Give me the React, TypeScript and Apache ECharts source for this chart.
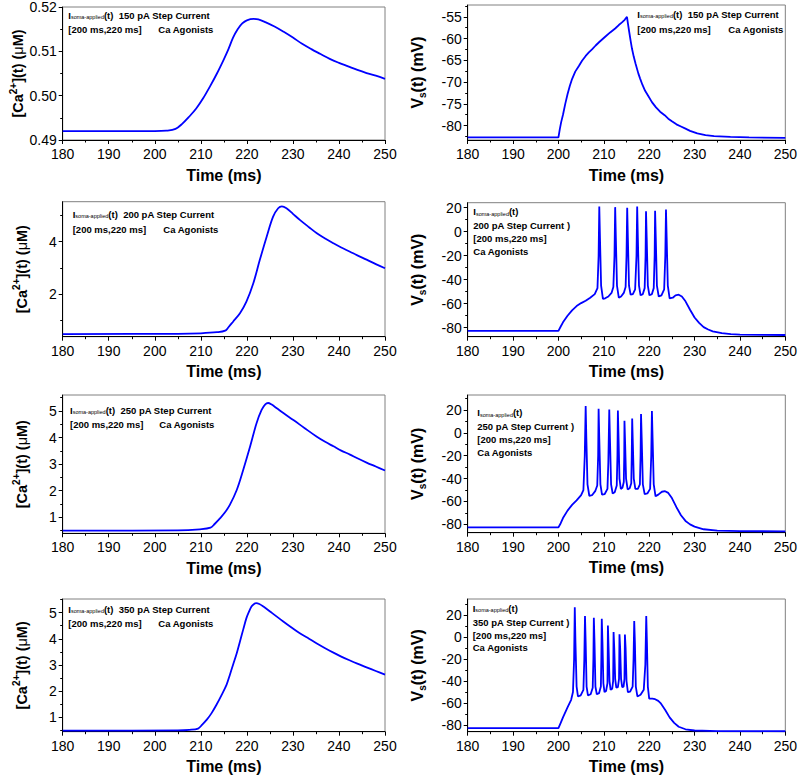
import React, { useEffect, useRef } from "react";
import * as echarts from "echarts";

// ---------- data ----------
const timeMin = 180;
const timeMax = 250;

const caTicks150 = [0.49, 0.5, 0.51, 0.52];
const caTicks200 = [2, 4];
const caTicks250 = [1, 2, 3, 4, 5];
const caTicks350 = [1, 2, 3, 4, 5];
const vTicks150 = [-80, -75, -70, -65, -60, -55];
const vTicksSpike = [-80, -60, -40, -20, 0, 20];

const ca150: number[][] = [
  [180, 0.492], [200, 0.492], [202.5, 0.4921], [204.5, 0.4925], [206, 0.4937], [207.5, 0.4953],
  [209, 0.4971], [210.5, 0.4994], [212, 0.5021], [213.5, 0.505], [215, 0.5082], [216, 0.5105],
  [217, 0.5131], [218, 0.515], [219, 0.5163], [220, 0.517], [221.5, 0.5173], [222.5, 0.5172],
  [224, 0.5166], [226, 0.5156], [228, 0.5144], [230, 0.5131], [232, 0.5117], [234, 0.5105],
  [236, 0.5094], [238, 0.5083], [240, 0.5074], [242, 0.5066], [244, 0.5058], [246, 0.5051],
  [248, 0.5045], [250, 0.5038],
];

const vs150: number[][] = [
  [180, -82.7], [200, -82.7], [200.3, -80.8], [200.6, -79.2], [201, -77.5], [201.5, -75], [202, -72.8],
  [202.5, -70.9], [203, -69.3], [203.7, -67.6], [204.5, -66.3], [205.2, -65.1], [206, -64], [206.7, -63.2],
  [207.4, -62.5], [208.2, -61.6], [209, -60.8], [210.3, -59.6], [211.4, -58.6], [212.5, -57.7],
  [213.3, -56.9], [214, -56.3], [214.6, -55.7], [215.1, -55], [215.35, -56.8], [215.6, -58.5],
  [215.9, -60.5], [216.2, -62.3], [216.6, -64.2], [217, -65.8], [217.6, -68], [218, -69.2],
  [218.5, -70.6], [219.1, -72], [219.8, -73.2], [220.6, -74.6], [221.5, -75.8], [222.4, -76.8],
  [223.4, -77.6], [224.2, -78.4], [225, -79], [226, -79.7], [227, -80.2], [228, -80.7], [229, -81.2],
  [230.6, -81.8], [232.4, -82.2], [234.3, -82.4], [237.9, -82.6], [242, -82.7], [250, -82.8],
];

const ca200: number[][] = [
  [180, 0.49], [205, 0.5], [210, 0.52], [213.5, 0.56], [215.3, 0.62], [216, 0.75], [217, 0.96],
  [218.5, 1.28], [219.9, 1.72], [221.4, 2.42], [222.8, 3.3], [224.3, 4.19], [225.7, 4.95],
  [226.8, 5.27], [227.6, 5.34], [228.6, 5.27], [230, 5.06], [231.5, 4.83], [233.5, 4.55],
  [235.2, 4.32], [237, 4.12], [238.8, 3.94], [240.5, 3.78], [242.4, 3.62], [244, 3.48],
  [246, 3.32], [248, 3.15], [250, 2.99],
];

const vs200: number[][] = [
  [180, -82.7], [200, -82.7], [200.5, -79], [201, -75.5], [202, -70], [203, -65.5], [204, -62],
  [205, -59.5], [206, -57.5], [207, -55], [208, -52], [208.6, -47], [208.85, -20], [209.0, 21],
  [209.15, -5], [209.4, -45], [209.8, -56], [210.3, -55.5], [211, -54], [211.7, -51], [212.1, -46],
  [212.35, -20], [212.5, 20.5], [212.65, -5], [212.9, -45], [213.3, -55], [213.8, -54], [214.4, -51],
  [214.8, -46], [215.0, -20], [215.15, 20], [215.3, -5], [215.55, -45], [215.9, -52.5], [216.4, -52],
  [216.9, -48], [217.2, -20], [217.35, 21], [217.5, -5], [217.75, -45], [218.1, -53], [218.6, -52],
  [219.0, -47], [219.2, -20], [219.3, 17], [219.45, -5], [219.7, -45], [220.05, -53], [220.6, -52],
  [221.0, -47], [221.2, -20], [221.3, 17.5], [221.45, -5], [221.7, -45], [222.1, -54], [222.7, -53],
  [223.3, -48], [223.55, -20], [223.7, 18.5], [223.85, -5], [224.1, -45], [224.5, -55.5], [225.2, -55],
  [225.8, -53], [226.5, -52.5], [227.2, -54], [228, -58], [229, -65], [230, -71.5], [231, -76],
  [232, -79.5], [233, -81.5], [234, -83], [236, -84.5], [238, -85.3], [240, -85.7], [245, -86],
  [250, -86.1],
];

const ca250: number[][] = [
  [180, 0.5], [205, 0.51], [209.8, 0.55], [212.1, 0.61], [213, 0.75], [214.2, 0.97], [215.3, 1.2],
  [216.3, 1.47], [217.8, 2.03], [219.2, 2.78], [220.7, 3.66], [222.1, 4.54], [223.2, 5.04],
  [224, 5.25], [224.6, 5.3], [225.3, 5.25], [226.5, 5.1], [228, 4.91], [230.1, 4.66], [232.5, 4.36],
  [235.2, 4.03], [237, 3.84], [238.8, 3.67], [240.5, 3.51], [242.4, 3.36], [244, 3.22], [246, 3.06],
  [248, 2.91], [250, 2.76],
];

const vs250: number[][] = [
  [180, -82.7], [200, -82.7], [200.5, -79], [201, -74.5], [202, -68], [203, -63], [204, -59],
  [205, -54.5], [205.5, -50], [205.8, -20], [206.0, 23.5], [206.15, -5], [206.4, -45], [206.8, -55],
  [207.4, -54.5], [208.1, -51], [208.55, -46], [208.75, -20], [208.85, 21], [209.0, -5], [209.25, -45],
  [209.6, -54], [210.2, -53.5], [210.8, -49], [211.0, -25], [211.2, 20.5], [211.35, -5], [211.6, -45],
  [211.95, -53], [212.4, -52], [212.85, -46], [213.0, -20], [213.1, 19.5], [213.25, -5], [213.45, -40],
  [213.75, -49], [214.1, -48], [214.4, -43], [214.5, -20], [214.55, 10.5], [214.7, -10], [214.9, -40],
  [215.25, -49.5], [215.7, -48.5], [216.05, -44], [216.15, -20], [216.25, 12.5], [216.4, -10],
  [216.6, -40], [216.95, -49], [217.5, -49], [217.95, -45], [218.1, -20], [218.2, 16.5], [218.35, -5],
  [218.6, -45], [219.0, -53.5], [219.6, -53], [220.2, -49], [220.45, -20], [220.6, 19], [220.75, -5],
  [221.0, -45], [221.4, -55.5], [222, -54], [222.8, -51.5], [223.5, -51], [224.2, -52.5], [225, -57],
  [226, -65], [227, -72], [228, -77], [229, -80], [230, -82], [232, -84.3], [235, -85.5], [240, -86],
  [250, -86.1],
];

const ca350: number[][] = [
  [180, 0.49], [205, 0.5], [207.5, 0.52], [209.4, 0.57], [210.3, 0.72], [211.3, 0.91], [212.3, 1.15],
  [213.4, 1.48], [214.5, 1.85], [215.6, 2.25], [216.3, 2.62], [217, 3.01], [217.8, 3.45], [218.5, 3.9],
  [219.2, 4.35], [219.9, 4.79], [220.5, 5.05], [221, 5.23], [221.5, 5.32], [222, 5.36], [222.7, 5.33],
  [223.6, 5.23], [225.5, 4.98], [227.9, 4.66], [229.7, 4.43], [231.5, 4.21], [233.5, 4.0],
  [235.2, 3.82], [237, 3.64], [238.8, 3.47], [240.5, 3.32], [242.4, 3.17], [244, 3.05], [246, 2.91],
  [248, 2.77], [250, 2.63],
];

const vs350: number[][] = [
  [180, -82.8], [200, -82.8], [200.5, -78], [201, -73], [202, -64], [202.8, -57], [203.2, -50],
  [203.45, -20], [203.6, 27], [203.75, -5], [204.0, -45], [204.3, -54], [204.9, -53], [205.5, -48],
  [205.7, -20], [205.85, 19], [206.0, -5], [206.2, -45], [206.5, -53], [207.1, -52], [207.55, -46],
  [207.7, -20], [207.8, 17.5], [207.95, -5], [208.15, -45], [208.45, -52], [208.95, -51], [209.35, -45],
  [209.45, -20], [209.55, 16.5], [209.7, -5], [209.9, -42], [210.15, -50], [210.5, -49], [210.8, -42],
  [210.85, -20], [210.9, 10.5], [211.05, -10], [211.25, -40], [211.5, -48], [211.85, -47], [212.05, -40],
  [212.1, -20], [212.15, 4.5], [212.3, -10], [212.5, -38], [212.75, -46], [213.1, -45.5], [213.35, -38],
  [213.4, -20], [213.45, 2.5], [213.6, -10], [213.8, -38], [214.05, -45.5], [214.35, -45], [214.55, -38],
  [214.6, -20], [214.65, 2.2], [214.8, -10], [215.0, -40], [215.3, -50], [215.8, -49.5], [216.35, -45],
  [216.55, -20], [216.7, 14.5], [216.85, -5], [217.05, -45], [217.4, -54], [218.1, -52.5], [218.8, -48],
  [219.15, -25], [219.35, 19], [219.5, -5], [219.7, -45], [220.0, -56], [220.7, -56], [221.3, -56.5],
  [222, -58], [222.5, -60], [223.5, -66], [224.5, -73], [225.5, -78], [226.5, -81.5], [228, -83.8],
  [230, -84.9], [235, -85.5], [250, -85.6],
];

const caRange150 = [0.49, 0.52];
const caRange200 = [0.39, 5.52];
const caRange250 = [0.4, 5.6];
const caRange350 = [0.45, 5.52];
const vRange150 = [-83.3, -52.3];
const vRange200 = [-87.5, 24.2];
const vRange250 = [-87.3, 33.1];
const vRange350 = [-86, 34.5];

const currents = ["150", "200", "250", "350"];

// ---------- layout ----------
const FONT = "'Liberation Sans', Arial, Helvetica, sans-serif";
const LINE = "#0000ff";

type Panel = {
  left: number; top: number; width: number; height: number;
  data: number[][]; range: number[]; ticks: number[];
  kind: "ca" | "v"; split: number; interval?: number; decimals: number; smooth: boolean;
};

const LX = 62.7, LW = 322.3, RX = 467.7, RW = 320.6;

const panels: Panel[] = [
  { left: LX, top: 6, width: LW, height: 134, data: ca150, range: caRange150, ticks: caTicks150, kind: "ca", split: 3, interval: 0.01, decimals: 2, smooth: true },
  { left: RX, top: 5, width: RW, height: 135, data: vs150, range: vRange150, ticks: vTicks150, kind: "v", split: 5, decimals: 0, smooth: false },
  { left: LX, top: 201.7, width: LW, height: 135, data: ca200, range: caRange200, ticks: caTicks200, kind: "ca", split: 3, decimals: 0, smooth: true },
  { left: RX, top: 202.7, width: RW, height: 134, data: vs200, range: vRange200, ticks: vTicksSpike, kind: "v", split: 5, decimals: 0, smooth: false },
  { left: LX, top: 395, width: LW, height: 138.3, data: ca250, range: caRange250, ticks: caTicks250, kind: "ca", split: 5, decimals: 0, smooth: true },
  { left: RX, top: 395, width: RW, height: 137.7, data: vs250, range: vRange250, ticks: vTicksSpike, kind: "v", split: 5, decimals: 0, smooth: false },
  { left: LX, top: 599, width: LW, height: 132.7, data: ca350, range: caRange350, ticks: caTicks350, kind: "ca", split: 5, decimals: 0, smooth: true },
  { left: RX, top: 599, width: RW, height: 132.7, data: vs350, range: vRange350, ticks: vTicksSpike, kind: "v", split: 5, decimals: 0, smooth: false },
];

const annFont = 9.5;
const rich = {
  b: { fontSize: annFont, fontWeight: "bold", fontFamily: FONT, fill: "#000" },
  s: { fontSize: 5.5, fontFamily: FONT, fill: "#000", verticalAlign: "bottom", padding: [3, 0, 0, 0] },
};

function txt(x: number, y: number, text: string): any {
  return {
    type: "text", x, y, z: 100,
    style: { text, rich, font: `bold ${annFont}px ${FONT}`, fill: "#000", align: "left", verticalAlign: "middle" },
  };
}
const head = (c: string) => `{b|I}{s|soma-applied}{b|(t)  ${c} pA Step Current}`;
const headOnly = `{b|I}{s|soma-applied}{b|(t)}`;

const graphics: any[] = [
  txt(68.3, 15, head(currents[0])), txt(68.3, 29, "{b|[200 ms,220 ms]}"), txt(158.3, 29, "{b|Ca Agonists}"),
  txt(637.3, 14.3, head(currents[0])), txt(637.3, 29, "{b|[200 ms,220 ms]}"), txt(728.3, 29, "{b|Ca Agonists}"),
  txt(72.7, 214.3, head(currents[1])), txt(72.7, 229.3, "{b|[200 ms,220 ms]}"), txt(163.3, 229.3, "{b|Ca Agonists}"),
  txt(473.3, 211.7, headOnly), txt(473.3, 225, `{b|${currents[1]} pA Step Current )}`), txt(473.3, 238, "{b|[200 ms,220 ms]}"), txt(473.3, 251, "{b|Ca Agonists}"),
  txt(70, 410, head(currents[2])), txt(70, 424.3, "{b|[200 ms,220 ms]}"), txt(159.3, 424.3, "{b|Ca Agonists}"),
  txt(477.3, 412.7, headOnly), txt(477.3, 426, `{b|${currents[2]} pA Step Current )}`), txt(477.3, 439, "{b|[200 ms,220 ms]}"), txt(477.3, 452, "{b|Ca Agonists}"),
  txt(68.3, 609, head(currents[3])), txt(68.3, 623.3, "{b|[200 ms,220 ms]}"), txt(158.3, 623.3, "{b|Ca Agonists}"),
  txt(472.7, 608.3, headOnly), txt(472.7, 622, `{b|${currents[3]} pA Step Current )}`), txt(472.7, 635, "{b|[200 ms,220 ms]}"), txt(472.7, 647, "{b|Ca Agonists}"),
];

function buildOption() {
  const grid: any[] = [], xAxis: any[] = [], yAxis: any[] = [], series: any[] = [];
  const axisLine = { show: true, onZero: false, lineStyle: { color: "#000", width: 1 } };
  const label = { color: "#000", fontSize: 14, fontFamily: FONT };
  panels.forEach((p, i) => {
    grid.push({ left: p.left, top: p.top, width: p.width, height: p.height, show: true, borderColor: "#808080", borderWidth: 1, backgroundColor: "transparent" });
    xAxis.push({
      type: "value", gridIndex: i, min: timeMin, max: timeMax, interval: 10,
      axisLine, splitLine: { show: false },
      axisTick: { show: true, length: 4, lineStyle: { color: "#000" } },
      minorTick: { show: true, splitNumber: 2, length: 2.5, lineStyle: { color: "#000" } },
      axisLabel: { ...label, margin: 7 },
      name: "Time (ms)", nameLocation: "middle", nameGap: 27,
      nameTextStyle: { color: "#000", fontSize: 16, fontWeight: "bold", fontFamily: FONT },
    });
    const isCa = p.kind === "ca";
    const name = isCa
      ? "{b|[Ca}{sup|2+}{b|](t) (}{mu|μ}{b|M)}"
      : "{b|V}{sub|s}{b|(t) (mV)}";
    const fs = isCa ? 14.5 : 16;
    const y: any = {
      type: "value", gridIndex: i, min: p.range[0], max: p.range[1], splitNumber: p.split,
      axisLine, splitLine: { show: false },
      axisTick: { show: true, length: 4, lineStyle: { color: "#000" }, customValues: p.ticks },
      minorTick: { show: true, splitNumber: 2, length: 2.5, lineStyle: { color: "#000" } },
      axisLabel: { ...label, margin: 6, customValues: p.ticks, formatter: (v: number) => v.toFixed(p.decimals) },
      name, nameLocation: "middle", nameRotate: 90, nameGap: isCa ? 31 : 40,
      nameTextStyle: {
        color: "#000", fontFamily: FONT,
        rich: {
          b: { fontSize: fs, fontWeight: "bold", fontFamily: FONT, color: "#000", lineHeight: 20 },
          sup: { fontSize: 10, fontWeight: "bold", fontFamily: FONT, color: "#000", verticalAlign: "top", lineHeight: 20 },
          sub: { fontSize: 10, fontWeight: "bold", fontFamily: FONT, color: "#000", verticalAlign: "bottom", lineHeight: 20 },
          mu: { fontSize: fs, fontFamily: FONT, color: "#000", lineHeight: 20 },
        },
      },
    };
    if (p.interval) y.interval = p.interval;
    yAxis.push(y);
    series.push({
      type: "line", xAxisIndex: i, yAxisIndex: i, data: p.data, showSymbol: false, symbol: "none",
      smooth: p.smooth ? 0.35 : false,
      lineStyle: { color: LINE, width: 1.8 }, clip: true, silent: true,
    });
  });
  return { animation: false, backgroundColor: "#fff", grid, xAxis, yAxis, series, graphic: graphics };
}

export default function App() {
  const ref = useRef<HTMLDivElement>(null);
  useEffect(() => {
    if (!ref.current) return;
    const chart = echarts.init(ref.current, undefined, { renderer: "svg" });
    chart.setOption(buildOption() as any);
    return () => chart.dispose();
  }, []);
  return <div ref={ref} style={{ position: "absolute", left: 0, top: 0, width: 800, height: 779, background: "#fff" }} />;
}
